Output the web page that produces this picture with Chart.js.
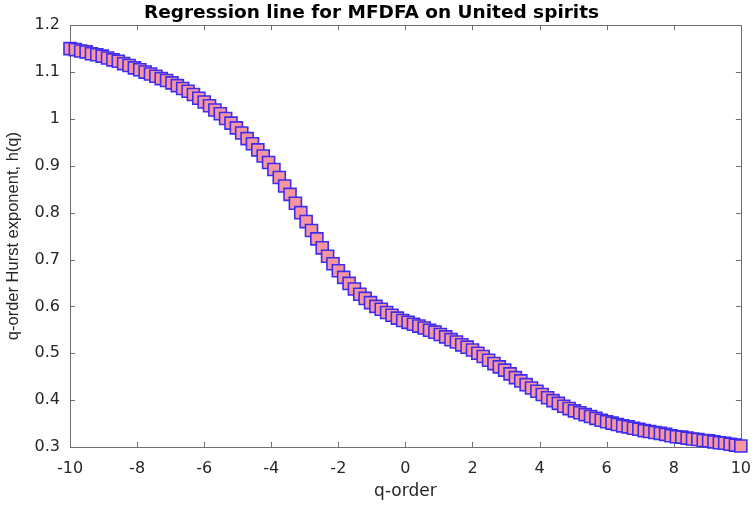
<!DOCTYPE html>
<html>
<head>
<meta charset="utf-8">
<script src="https://cdn.jsdelivr.net/npm/chart.js@4/dist/chart.umd.min.js"></script>
<style>
  html, body { margin: 0; padding: 0; background: #ffffff; }
  #wrap { width: 755px; height: 505px; }
</style>
</head>
<body>
<div id="wrap"><canvas id="c" width="755" height="505"></canvas></div>
<script>
// q-order values (x)
const qOrder = [
  -10.0, -9.84, -9.68, -9.52, -9.36, -9.2, -9.04, -8.88, -8.72, -8.56,
  -8.4, -8.24, -8.08, -7.92, -7.76, -7.6, -7.44, -7.28, -7.12, -6.96,
  -6.8, -6.64, -6.48, -6.32, -6.16, -6.0, -5.84, -5.68, -5.52, -5.36,
  -5.2, -5.04, -4.88, -4.72, -4.56, -4.4, -4.24, -4.08, -3.92, -3.76,
  -3.6, -3.44, -3.28, -3.12, -2.96, -2.8, -2.64, -2.48, -2.32, -2.16,
  -2.0, -1.84, -1.68, -1.52, -1.36, -1.2, -1.04, -0.88, -0.72, -0.56,
  -0.4, -0.24, -0.08, 0.08, 0.24, 0.4, 0.56, 0.72, 0.88, 1.04,
  1.2, 1.36, 1.52, 1.68, 1.84, 2.0, 2.16, 2.32, 2.48, 2.64,
  2.8, 2.96, 3.12, 3.28, 3.44, 3.6, 3.76, 3.92, 4.08, 4.24,
  4.4, 4.56, 4.72, 4.88, 5.04, 5.2, 5.36, 5.52, 5.68, 5.84,
  6.0, 6.16, 6.32, 6.48, 6.64, 6.8, 6.96, 7.12, 7.28, 7.44,
  7.6, 7.76, 7.92, 8.08, 8.24, 8.4, 8.56, 8.72, 8.88, 9.04,
  9.2, 9.36, 9.52, 9.68, 9.84, 10.0
];
// generalized Hurst exponent h(q) (y)
const hurst = [
  1.150, 1.148, 1.145, 1.143, 1.139, 1.137, 1.134, 1.130, 1.126, 1.123,
  1.118, 1.114, 1.109, 1.105, 1.100, 1.096, 1.091, 1.086, 1.082, 1.077,
  1.071, 1.065, 1.059, 1.052, 1.044, 1.036, 1.028, 1.019, 1.011, 1.001,
  0.991, 0.981, 0.970, 0.958, 0.947, 0.934, 0.921, 0.907, 0.892, 0.875,
  0.857, 0.839, 0.820, 0.800, 0.781, 0.762, 0.744, 0.725, 0.707, 0.691,
  0.676, 0.662, 0.649, 0.637, 0.626, 0.617, 0.608, 0.600, 0.594, 0.587,
  0.581, 0.575, 0.570, 0.566, 0.562, 0.558, 0.554, 0.549, 0.545, 0.540,
  0.535, 0.529, 0.524, 0.518, 0.513, 0.507, 0.500, 0.493, 0.485, 0.478,
  0.471, 0.464, 0.456, 0.448, 0.441, 0.433, 0.426, 0.419, 0.412, 0.405,
  0.399, 0.393, 0.387, 0.382, 0.377, 0.373, 0.369, 0.365, 0.361, 0.357,
  0.354, 0.351, 0.348, 0.345, 0.343, 0.340, 0.338, 0.335, 0.333, 0.331,
  0.329, 0.327, 0.324, 0.322, 0.321, 0.319, 0.317, 0.316, 0.314, 0.313,
  0.311, 0.309, 0.308, 0.306, 0.304, 0.302
];
const xTickValues = [-10, -8, -6, -4, -2, 0, 2, 4, 6, 8, 10];
const xTickLabels = ['-10', '-8', '-6', '-4', '-2', '0', '2', '4', '6', '8', '10'];
const yTickValues = [0.3, 0.4, 0.5, 0.6, 0.7, 0.8, 0.9, 1.0, 1.1, 1.2];
const yTickLabels = ['0.3', '0.4', '0.5', '0.6', '0.7', '0.8', '0.9', '1', '1.1', '1.2'];

const titleText = 'Regression line for MFDFA on United spirits';
const xTitle = 'q-order';
const yTitle = 'q-order Hurst exponent, h(q)';

const axisColor = '#6f6f6f';
const textColor = '#262626';
const WIDE = "'DejaVu Sans', Verdana, sans-serif";
const NARROW = "'Liberation Sans', Arial, Helvetica, sans-serif";

const points = qOrder.map((q, i) => ({ x: q, y: hurst[i] }));

// Draw MATLAB-style box with inward ticks on all four sides
const boxPlugin = {
  id: 'matlabBox',
  beforeDatasetsDraw(chart) {
    const { ctx, chartArea: a, scales } = chart;
    const tl = 5;
    ctx.save();
    ctx.strokeStyle = axisColor;
    ctx.lineWidth = 1;
    ctx.beginPath();
    ctx.rect(Math.round(a.left) + 0.5, Math.round(a.top) + 0.5,
             Math.round(a.right - a.left), Math.round(a.bottom - a.top));
    xTickValues.forEach(v => {
      const px = Math.round(scales.x.getPixelForValue(v)) + 0.5;
      ctx.moveTo(px, a.bottom); ctx.lineTo(px, a.bottom - tl);
      ctx.moveTo(px, a.top); ctx.lineTo(px, a.top + tl);
    });
    yTickValues.forEach(v => {
      const py = Math.round(scales.y.getPixelForValue(v)) + 0.5;
      ctx.moveTo(a.left, py); ctx.lineTo(a.left + tl, py);
      ctx.moveTo(a.right, py); ctx.lineTo(a.right - tl, py);
    });
    ctx.stroke();
    ctx.restore();
  }
};

new Chart(document.getElementById('c'), {
  type: 'scatter',
  data: {
    datasets: [{
      label: 'h(q)',
      data: points,
      pointStyle: 'rect',
      pointRadius: 8.5,
      pointHoverRadius: 8.5,
      backgroundColor: 'rgb(248,150,160)',
      borderColor: 'rgb(60,45,240)',
      borderWidth: 1.6,
      clip: false
    }]
  },
  options: {
    responsive: false,
    animation: false,
    layout: { padding: { left: 0, right: 12, top: 0, bottom: 0 } },
    plugins: {
      legend: { display: false },
      tooltip: { enabled: false },
      title: {
        display: true,
        text: titleText,
        color: '#000000',
        font: { family: WIDE, size: 18.5, weight: 'bold', lineHeight: 1.2 },
        padding: { top: 2, bottom: 1 }
      }
    },
    scales: {
      x: {
        type: 'linear',
        min: -10, max: 10,
        grid: { display: false },
        border: { display: false },
        afterBuildTicks: s => { s.ticks = xTickValues.map(v => ({ value: v })); },
        afterFit: s => { s.height = 58; },
        ticks: {
          color: textColor,
          padding: 4,
          maxRotation: 0,
          autoSkip: false,
          font: { family: WIDE, size: 16 },
          callback: (v) => xTickLabels[xTickValues.indexOf(v)] ?? ''
        },
        title: {
          display: true, text: xTitle, color: textColor,
          font: { family: WIDE, size: 17 },
          padding: { top: 4, bottom: 3 }
        }
      },
      y: {
        type: 'linear',
        min: 0.3, max: 1.2,
        grid: { display: false },
        border: { display: false },
        afterBuildTicks: s => { s.ticks = yTickValues.map(v => ({ value: v })); },
        afterFit: s => { s.width = 70; },
        ticks: {
          color: textColor,
          padding: 2,
          autoSkip: false,
          font: { family: WIDE, size: 16 },
          callback: (v) => {
            const i = yTickValues.findIndex(t => Math.abs(t - v) < 1e-9);
            return i >= 0 ? yTickLabels[i] : '';
          }
        },
        title: {
          display: true, text: yTitle, color: textColor,
          font: { family: NARROW, size: 16.5 },
          padding: { top: 4, bottom: 4 }
        }
      }
    }
  },
  plugins: [boxPlugin]
});
</script>
</body>
</html>
